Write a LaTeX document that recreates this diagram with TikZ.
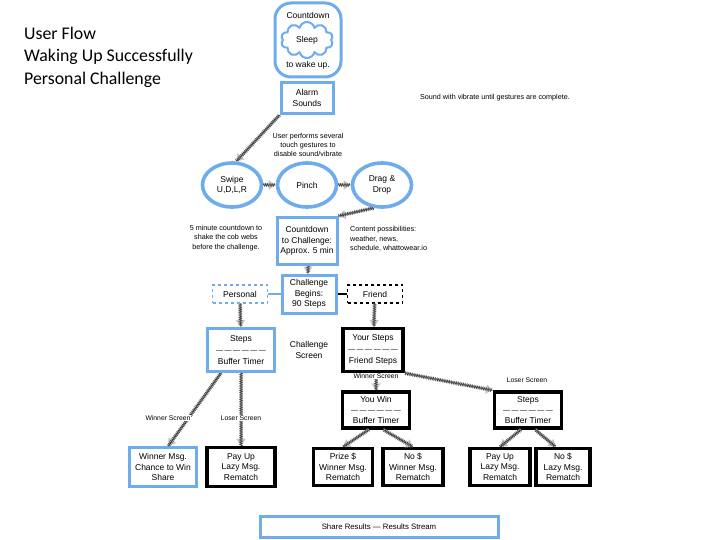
\documentclass[tikz,border=0pt]{standalone}
\usepackage{fontspec}
\setmainfont{Liberation Sans}
\setsansfont{Liberation Sans}
\newfontfamily\titlefont{Carlito}
\usetikzlibrary{shapes.symbols,shapes.geometric,arrows.meta,decorations.pathmorphing}
\definecolor{lblue}{RGB}{110,172,236}
\newcommand{\dashrow}{\raisebox{0.6pt}{\fontsize{7}{7}\selectfont —\hspace{1.6pt}—\hspace{1.6pt}—\hspace{1.6pt}—\hspace{1.6pt}—\hspace{1.6pt}—}}
\begin{document}
\begin{tikzpicture}[x=1pt,y=-1pt,
  every node/.style={font=\fontsize{8.5}{10.5}\selectfont, align=center, inner sep=1pt},
  bbox/.style={draw=lblue, line width=3pt, fill=white},
  kbox/.style={draw=black, line width=3.2pt, fill=white},
  ell/.style={ellipse, draw=lblue, line width=3.6pt, minimum width=59pt, minimum height=44pt},
  small/.style={font=\fontsize{7.2}{9.2}\selectfont},
  lbl/.style={font=\fontsize{6.8}{8}\selectfont, fill=white, inner sep=1pt},
  conn/.style={draw=gray!45, line width=3pt, -{Triangle[length=7pt,width=9pt]},
    postaction={draw=black!75, line width=0.5pt, -, shorten >=5pt, decorate,
      decoration={zigzag, amplitude=1.4pt, segment length=1.8pt}}}
]
\useasboundingbox (0,0) rectangle (720,540);
% title
\node[anchor=west, font=\titlefont\fontsize{17.8}{22.5}\selectfont, align=left, inner sep=0pt] (title) at (24,57) {User Flow\\Waking Up Successfully\\Personal Challenge};
% sleep
\node[bbox, rounded corners=16pt, minimum width=66pt, minimum height=74pt] (sleepbox) at (308,40) {};
\node (cdtxt) at (308,15) {Countdown};
\node (waketxt) at (308,65) {to wake up.};
\node[cloud, cloud puffs=10, aspect=1.45, draw=lblue, line width=2pt, minimum width=52pt, minimum height=36pt, inner sep=0pt] (sleep) at (307,40) {Sleep};
% alarm
\node[bbox, minimum width=52pt, minimum height=31pt] (alarm) at (307,98) {Alarm\\Sounds};
\node[small] (sound) at (495,98) {Sound with vibrate until gestures are complete.};
\node[small] (gest) at (308,145) {User performs several\\touch gestures to\\disable sound/vibrate};
% gestures
\node[ell] (swipe) at (232,185) {Swipe\\U,D,L,R};
\node[ell] (pinch) at (307,185) {Pinch};
\node[ell] (drag) at (382,185) {Drag \&\\Drop};
% countdown
\node[bbox, minimum width=60pt, minimum height=47pt] (cd2) at (307,241) {Countdown\\to Challenge:\\Approx. 5 min};
\node[small] (cdnote) at (226,238) {5 minute countdown to\\shake the cob webs\\before the challenge.};
\node[small, align=left, anchor=west] (content) at (349,239) {Content possibilities:\\weather, news,\\schedule, whattowear.io};
% challenge begins
\node[bbox, minimum width=54pt, minimum height=38pt] (begin) at (309,294) {Challenge\\Begins:\\90 Steps};
\node[draw=lblue, line width=1.4pt, dashed, minimum width=55pt, minimum height=18pt] (personal) at (240,294) {Personal};
\node[draw=black, line width=1.4pt, dashed, minimum width=55pt, minimum height=18pt] (friend) at (375,294) {Friend};
\draw[lblue, line width=1.2pt] (personal) -- (begin);
\draw[black, line width=1.6pt] (begin) -- (friend);
% challenge screens
\node[bbox, minimum width=67pt, minimum height=43pt] (stepsL) at (241,350) {Steps\\[1pt]\dashrow\\[1pt]Buffer Timer};
\node (cscreen) at (309,350) {Challenge\\Screen};
\node[kbox, minimum width=60pt, minimum height=43pt] (yours) at (373,350) {Your Steps\\[1pt]\dashrow\\[1pt]Friend Steps};
% second level
\node[kbox, minimum width=67pt, minimum height=36pt] (youwin) at (376,410) {You Win\\\dashrow\\Buffer Timer};
\node[kbox, minimum width=67pt, minimum height=36pt] (stepsR) at (528,410) {Steps\\\dashrow\\Buffer Timer};
% bottom row
\node[bbox, minimum width=67pt, minimum height=39pt] (winner) at (163,467) {Winner Msg.\\Chance to Win\\Share};
\node[kbox, minimum width=68pt, minimum height=39pt] (payL) at (241,467) {Pay Up\\Lazy Msg.\\Rematch};
\node[kbox, minimum width=59pt, minimum height=37pt] (prize) at (343,467) {Prize \$\\Winner Msg.\\Rematch};
\node[kbox, minimum width=60pt, minimum height=37pt] (nowin) at (413,467) {No \$\\Winner Msg.\\Rematch};
\node[kbox, minimum width=60pt, minimum height=37pt] (payR) at (500,467) {Pay Up\\Lazy Msg.\\Rematch};
\node[kbox, minimum width=54pt, minimum height=37pt] (nolazy) at (563,467) {No \$\\Lazy Msg.\\Rematch};
% share
\node[bbox, minimum width=238pt, minimum height=21pt, font=\fontsize{7.8}{9}\selectfont] (share) at (379,527) {Share Results — Results Stream};
% connectors
\draw[conn] (alarm.south west) -- (swipe.80);
\draw[conn] (swipe) -- (pinch);
\draw[conn] (pinch) -- (drag);
\draw[conn] (drag.250) -- (cd2.north east);
\draw[conn] (cd2) -- (begin);
\draw[conn] (personal) -- (stepsL);
\draw[conn] (friend) -- (yours);
\draw[conn] (stepsL.229) -- (winner.76);
\draw[conn] (stepsL) -- (payL);
\draw[conn] (yours.south -| youwin) -- (youwin);
\draw[conn] (yours.south east) -- (stepsR.north west);
\draw[conn] (youwin.250) -- (prize.north);
\draw[conn] (youwin.290) -- (nowin.north);
\draw[conn] (stepsR.250) -- (payR.north);
\draw[conn] (stepsR.290) -- (nolazy.110);
% labels
\node[lbl] (wsL) at (168,418) {Winner Screen};
\node[lbl] (lsL) at (241,418) {Loser Screen};
\node[lbl] (wsR) at (376,376) {Winner Screen};
\node[lbl] (lsR) at (527,380) {Loser Screen};
\end{tikzpicture}
\end{document}
